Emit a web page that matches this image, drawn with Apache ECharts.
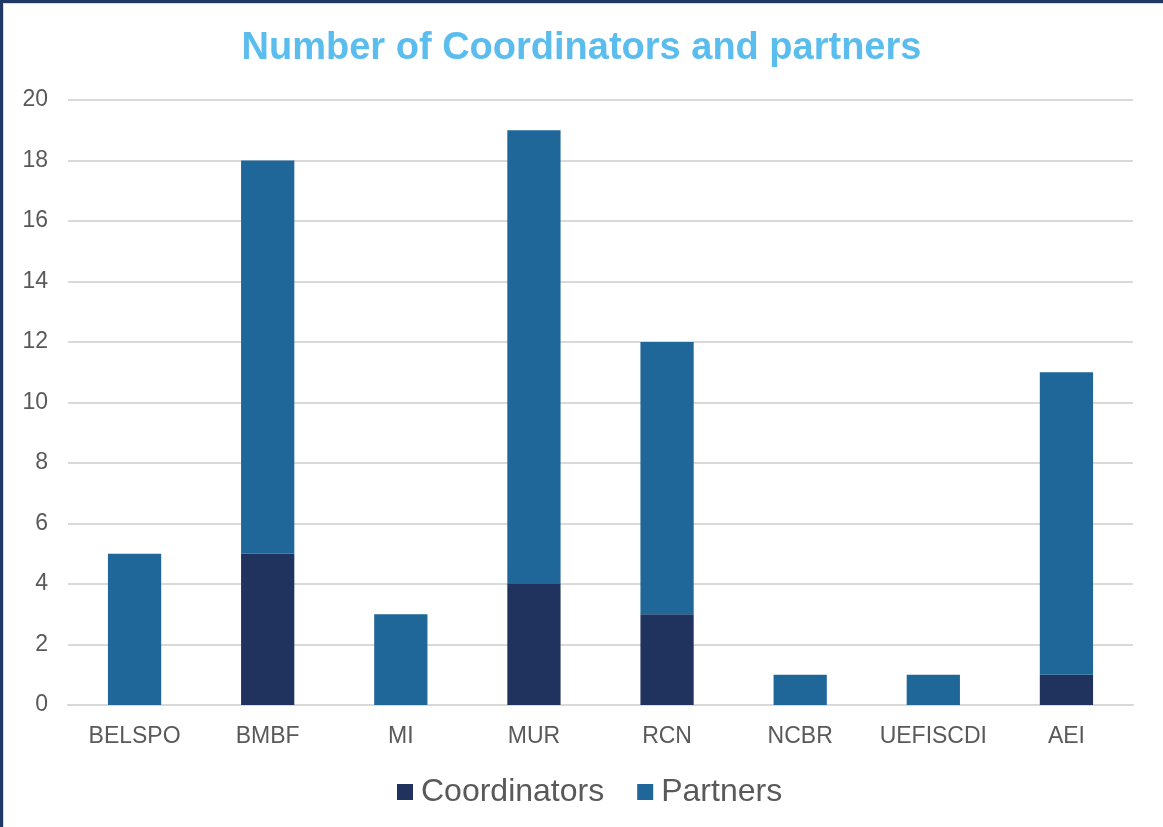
<!DOCTYPE html>
<html><head><meta charset="utf-8">
<script src="https://cdn.jsdelivr.net/npm/echarts@6/dist/echarts.min.js"></script>
<style>
html,body{margin:0;padding:0;background:#fff;}
#wrap{position:absolute;left:0;top:0;width:1163px;height:827px;box-sizing:border-box;border-top:3px solid #1F3864;border-left:3px solid #1F3864;}
#inner{position:absolute;left:0;top:0;right:0;bottom:0;border-top:1px solid #d9d9d9;border-left:1px solid #d9d9d9;}
#chart{position:absolute;left:-3px;top:-3px;width:1163px;height:827px;}
</style></head>
<body>
<div id="wrap"><div id="inner"></div><div id="chart"></div></div>
<script>
var categories = ['BELSPO','BMBF','MI','MUR','RCN','NCBR','UEFISCDI','AEI'];
var coordinators = [0,5,0,4,3,0,0,1];
var partners = [5,13,3,15,9,1,1,10];
var chart = echarts.init(document.getElementById('chart'));
var ff = 'Liberation Sans, Arial, sans-serif';
chart.setOption({
  animation:false,
  title:{text:'Number of Coordinators and partners',left:'center',top:25,
    textStyle:{color:'#5BBDEE',fontSize:38,fontWeight:'bold',fontFamily:ff}},
  legend:{top:771,left:392,itemWidth:16,itemHeight:16,itemGap:33,
    icon:'rect',
    textStyle:{color:'#595959',fontSize:32,fontFamily:ff,padding:[0,0,0,3]},
    data:['Coordinators','Partners']},
  grid:{left:68,right:30,top:100,bottom:122,containLabel:false},
  xAxis:{type:'category',data:categories,
    axisLine:{lineStyle:{color:'#d9d9d9',width:2}},axisTick:{show:false},
    axisLabel:{color:'#595959',fontSize:23,margin:20,interval:0,fontFamily:ff}},
  yAxis:{type:'value',min:0,max:20,interval:2,
    axisLine:{show:false},axisTick:{show:false},
    splitLine:{lineStyle:{color:'#d9d9d9',width:2}},
    axisLabel:{color:'#595959',fontSize:23,margin:20,fontFamily:ff}},
  series:[
    {name:'Coordinators',type:'bar',stack:'a',data:coordinators,barWidth:'40%',itemStyle:{color:'#1F335E'}},
    {name:'Partners',type:'bar',stack:'a',data:partners,barWidth:'40%',itemStyle:{color:'#1F6699'}}
  ]
});
</script>
</body></html>
